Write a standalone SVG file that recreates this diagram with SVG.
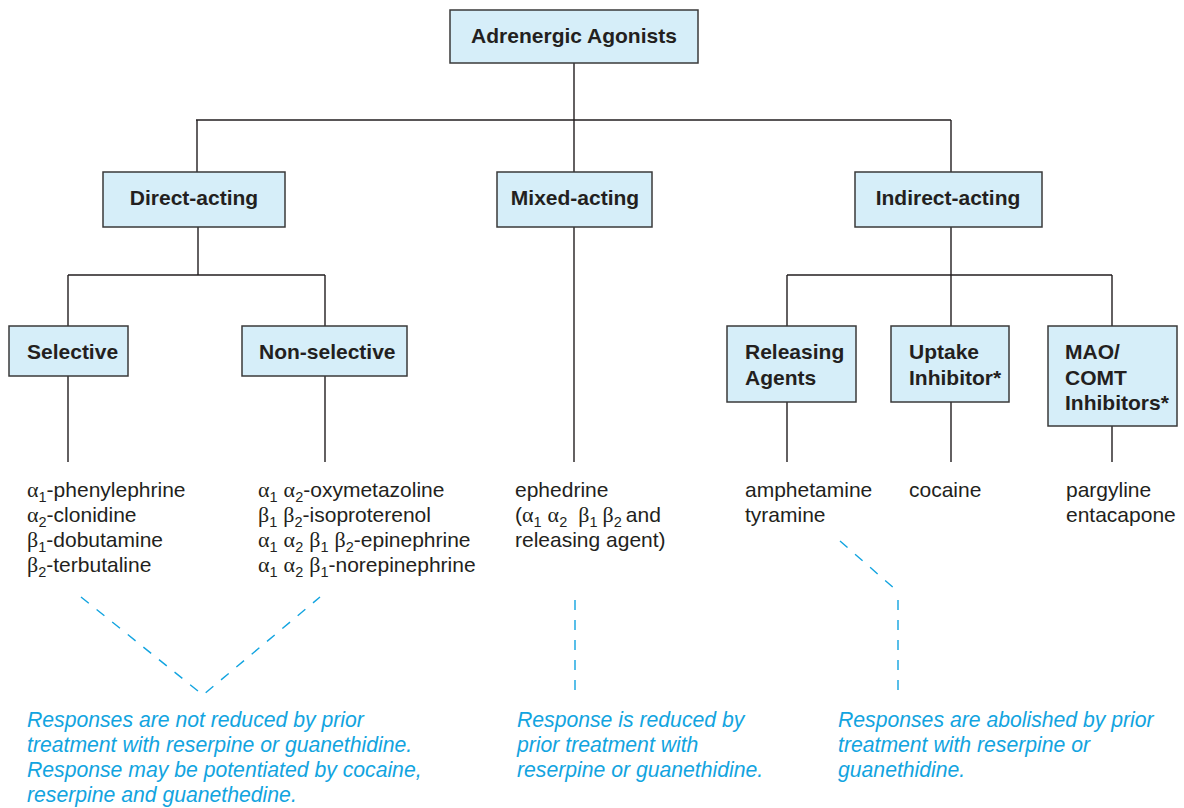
<svg xmlns="http://www.w3.org/2000/svg" width="1184" height="808" viewBox="0 0 1184 808">
<style>
.box{fill:#d6eef9;stroke:#3a3a3a;stroke-width:1.5}
.bl{font-family:"Liberation Sans",Arial,sans-serif;font-weight:bold;font-size:21px;fill:#231f20}
.tx{font-family:"Liberation Sans",Arial,sans-serif;font-size:21px;fill:#231f20}
.gr{font-family:"Liberation Serif","DejaVu Serif",serif;font-size:22px}
.sb{font-size:14.5px}
.nt{font-family:"Liberation Sans",Arial,sans-serif;font-style:italic;font-size:21.2px;fill:#12a4e0}
.ln{fill:none;stroke:#231f20;stroke-width:1.4}
.ds{fill:none;stroke:#12a4e0;stroke-width:1.4;stroke-dasharray:10 10}
</style>
<rect width="1184" height="808" fill="#ffffff"/>
<g id="connectors">
<path class="ln" d="M574 63V120M196 120H951M197 120V172M574 120V172M951 120V172"/>
<path class="ln" d="M198 227V275M68 275H325M68 275V326M325 275V326M68 376V462M325 376V462"/>
<path class="ln" d="M574 227V462"/>
<path class="ln" d="M951 227V275M787 275H1112M787 275V326M951 275V326M1112 275V326M787 402V462M951 402V462M1112 426V462"/>
<path class="ds" d="M81 597L203 695L320 597"/>
<path class="ds" d="M575 600V695"/>
<path class="ds" d="M840 541L896 590"/>
<path class="ds" d="M898 600V695"/>
</g>
<g id="n-root"><rect class="box" x="450" y="10" width="248" height="53"/><text class="bl" x="574" y="43" text-anchor="middle">Adrenergic Agonists</text></g>
<g id="n-direct"><rect class="box" x="103" y="172" width="182" height="55"/><text class="bl" x="194" y="205" text-anchor="middle">Direct-acting</text></g>
<g id="n-mixed"><rect class="box" x="497" y="172" width="155" height="55"/><text class="bl" x="575" y="205" text-anchor="middle">Mixed-acting</text></g>
<g id="n-indirect"><rect class="box" x="855" y="172" width="187" height="55"/><text class="bl" x="948" y="205" text-anchor="middle">Indirect-acting</text></g>
<g id="n-selective"><rect class="box" x="9" y="326" width="119" height="50"/><text class="bl" x="27" y="359">Selective</text></g>
<g id="n-nonselective"><rect class="box" x="242" y="326" width="165" height="50"/><text class="bl" x="259" y="359">Non-selective</text></g>
<g id="n-releasing"><rect class="box" x="727" y="326" width="129" height="76"/><text class="bl" x="745" y="359">Releasing</text><text class="bl" x="745" y="385">Agents</text></g>
<g id="n-uptake"><rect class="box" x="891" y="326" width="118" height="76"/><text class="bl" x="909" y="359">Uptake</text><text class="bl" x="909" y="385">Inhibitor*</text></g>
<g id="n-mao"><rect class="box" x="1048" y="326" width="129" height="100"/><text class="bl" x="1065" y="359">MAO/</text><text class="bl" x="1065" y="385">COMT</text><text class="bl" x="1065" y="410">Inhibitors*</text></g>
<g id="list-selective" class="tx">
<text x="27" y="497"><tspan class="gr">α</tspan><tspan class="sb" dy="5">1</tspan><tspan dy="-5">-phenylephrine</tspan></text>
<text x="27" y="522"><tspan class="gr">α</tspan><tspan class="sb" dy="5">2</tspan><tspan dy="-5">-clonidine</tspan></text>
<text x="27" y="547"><tspan class="gr">β</tspan><tspan class="sb" dy="5">1</tspan><tspan dy="-5">-dobutamine</tspan></text>
<text x="27" y="572"><tspan class="gr">β</tspan><tspan class="sb" dy="5">2</tspan><tspan dy="-5">-terbutaline</tspan></text>
</g>
<g id="list-nonselective" class="tx">
<text x="258" y="497"><tspan class="gr">α</tspan><tspan class="sb" dy="5">1</tspan><tspan class="gr" dx="6" dy="-5">α</tspan><tspan class="sb" dy="5">2</tspan><tspan dy="-5">-oxymetazoline</tspan></text>
<text x="258" y="522"><tspan class="gr">β</tspan><tspan class="sb" dy="5">1</tspan><tspan class="gr" dx="6" dy="-5">β</tspan><tspan class="sb" dy="5">2</tspan><tspan dy="-5">-isoproterenol</tspan></text>
<text x="258" y="547"><tspan class="gr">α</tspan><tspan class="sb" dy="5">1</tspan><tspan class="gr" dx="6" dy="-5">α</tspan><tspan class="sb" dy="5">2</tspan><tspan class="gr" dx="6" dy="-5">β</tspan><tspan class="sb" dy="5">1</tspan><tspan class="gr" dx="6" dy="-5">β</tspan><tspan class="sb" dy="5">2</tspan><tspan dy="-5">-epinephrine</tspan></text>
<text x="258" y="572"><tspan class="gr">α</tspan><tspan class="sb" dy="5">1</tspan><tspan class="gr" dx="6" dy="-5">α</tspan><tspan class="sb" dy="5">2</tspan><tspan class="gr" dx="6" dy="-5">β</tspan><tspan class="sb" dy="5">1</tspan><tspan dy="-5">-norepinephrine</tspan></text>
</g>
<g id="list-mixed" class="tx">
<text x="515" y="497">ephedrine</text>
<text x="515" y="522">(<tspan class="gr">α</tspan><tspan class="sb" dy="5">1</tspan><tspan class="gr" dx="6" dy="-5">α</tspan><tspan class="sb" dy="5">2</tspan><tspan class="gr" dx="11" dy="-5">β</tspan><tspan class="sb" dy="5">1</tspan><tspan class="gr" dx="5" dy="-5">β</tspan><tspan class="sb" dy="5">2</tspan><tspan dx="4" dy="-5">and</tspan></text>
<text x="515" y="547">releasing agent)</text>
</g>
<g id="list-releasing" class="tx"><text x="745" y="497">amphetamine</text><text x="745" y="522">tyramine</text></g>
<g id="list-uptake" class="tx"><text x="909" y="497">cocaine</text></g>
<g id="list-mao" class="tx"><text x="1066" y="497">pargyline</text><text x="1066" y="522">entacapone</text></g>
<g id="note-direct" class="nt">
<text x="27" y="727">Responses are not reduced by prior</text>
<text x="27" y="752">treatment with reserpine or guanethidine.</text>
<text x="27" y="777">Response may be potentiated by cocaine,</text>
<text x="27" y="802">reserpine and guanethedine.</text>
</g>
<g id="note-mixed" class="nt">
<text x="517" y="727">Response is reduced by</text>
<text x="517" y="752">prior treatment with</text>
<text x="517" y="777">reserpine or guanethidine.</text>
</g>
<g id="note-indirect" class="nt">
<text x="838" y="727">Responses are abolished by prior</text>
<text x="838" y="752">treatment with reserpine or</text>
<text x="838" y="777">guanethidine.</text>
</g>
</svg>
